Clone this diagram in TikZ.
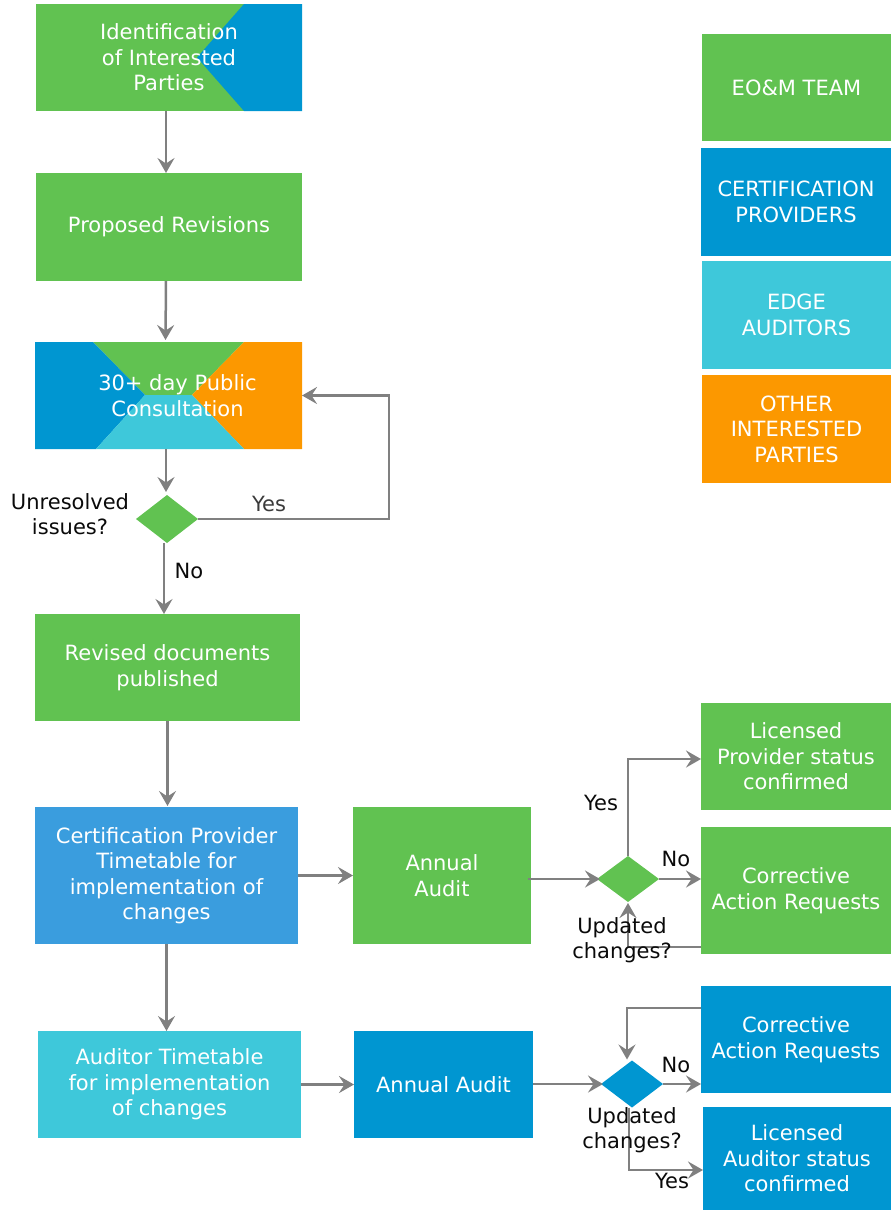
\documentclass[tikz,border=0pt]{standalone}
\usepackage{fontspec}
\setmainfont{DejaVu Sans}
\usetikzlibrary{shapes.geometric,arrows.meta}
\definecolor{cgreen}{RGB}{97,194,81}
\definecolor{cblue}{RGB}{0,150,209}
\definecolor{ccyan}{RGB}{62,200,218}
\definecolor{corange}{RGB}{252,152,0}
\definecolor{clblue}{RGB}{58,157,222}
\definecolor{cline}{RGB}{128,128,128}
\definecolor{ctext}{RGB}{10,10,10}
\tikzset{
  box/.style={rectangle, inner sep=0pt, outer sep=0pt, align=center, text=white,
    font=\fontsize{21}{25.5}\selectfont},
  dec/.style={diamond, inner sep=0pt, outer sep=0pt, minimum width=62pt, minimum height=47pt},
  lbl/.style={align=center, text=ctext, font=\fontsize{21}{25.5}\selectfont},
  arr/.style={draw=cline, line width=2.5pt, -{Stealth[length=15pt,width=17pt,inset=5.5pt]}},
}
\begin{document}
\begin{tikzpicture}[x=1pt,y=-1pt]
\useasboundingbox (0,0) rectangle (891,1211);
% ---- box 1 (green / blue)
\fill[cgreen] (36,4) rectangle (302,111);
\fill[cblue] (244,4) -- (302,4) -- (302,111) -- (244,111) -- (197,57.5) -- cycle;
\node[box, minimum width=266pt, minimum height=107pt] (n1) at (169,57.5) {Identification\\of Interested\\Parties};
% ---- box 2
\node[box, fill=cgreen, minimum width=266pt, minimum height=108pt] (n2) at (169,227) {Proposed Revisions};
% ---- box 3 (four colours)
\fill[cgreen] (93,342) -- (244,342) -- (192,395) -- (145,395) -- cycle;
\fill[cblue] (35,342) -- (93,342) -- (145,395) -- (96,449) -- (35,449) -- cycle;
\fill[corange] (244,342) -- (302,342) -- (302,449) -- (244,449) -- (192,395) -- cycle;
\fill[ccyan] (145,395) -- (192,395) -- (244,449) -- (96,449) -- cycle;
\node[box, minimum width=267pt, minimum height=107pt] (n3) at (168.5,395.5) {\hspace*{18pt}30+ day Public\\\hspace*{18pt}Consultation};
% ---- decision 1
\node[dec, fill=cgreen, minimum height=48pt] (d1) at (167,519) {};
% ---- box 4
\node[box, fill=cgreen, minimum width=265pt, minimum height=107pt] (n4) at (167.5,667.5) {Revised documents\\published};
% ---- box 5, 6
\node[box, fill=clblue, minimum width=263pt, minimum height=137pt] (n5) at (166.5,875.5) {Certification Provider\\Timetable for\\implementation of\\changes};
\node[box, fill=cgreen, minimum width=178pt, minimum height=137pt] (n6) at (442,875.5) {Annual\\Audit};
\node[dec, fill=cgreen, minimum height=46pt] (d2) at (628,879) {};
\node[box, fill=cgreen, minimum width=190pt, minimum height=107pt] (n7) at (796,756.5) {Licensed\\Provider status\\confirmed};
\node[box, fill=cgreen, minimum width=190pt, minimum height=127pt] (n8) at (796,890.5) {Corrective\\Action Requests};
% ---- box 9, 10
\node[box, fill=ccyan, minimum width=263pt, minimum height=107pt] (n9) at (169.5,1084.5) {Auditor Timetable\\for implementation\\of changes};
\node[box, fill=cblue, minimum width=179pt, minimum height=107pt] (n10) at (443.5,1084.5) {Annual Audit};
\node[dec, fill=cblue] (d3) at (632,1084) {};
\node[box, fill=cblue, minimum width=190pt, minimum height=107pt] (n11) at (796,1039.5) {Corrective\\Action Requests};
\node[box, fill=cblue, minimum width=188pt, minimum height=103pt] (n12) at (797,1158.5) {Licensed\\Auditor status\\confirmed};
% ---- legend
\node[box, fill=cgreen, minimum width=189pt, minimum height=107pt] (l1) at (796.5,87.5) {EO\&M TEAM};
\node[box, fill=cblue, minimum width=190pt, minimum height=108pt] (l2) at (796,202) {CERTIFICATION\\PROVIDERS};
\node[box, fill=ccyan, minimum width=189pt, minimum height=108pt] (l3) at (796.5,315) {EDGE\\AUDITORS};
\node[box, fill=corange, minimum width=189pt, minimum height=108pt] (l4) at (796.5,429) {OTHER\\INTERESTED\\PARTIES};
% ---- connectors
\draw[arr] ([xshift=-3pt]n1.south) -- ([xshift=-3pt]n2.north);
\draw[arr] ([xshift=-3pt]n2.south) -- ([xshift=-3pt,yshift=2pt]n3.north);
\draw[arr] ([xshift=-2.5pt]n3.south) -- ([xshift=-1pt,yshift=3pt]d1.north);
\draw[arr] (d1.east) -- ++(191,0) |- (n3.east);
\draw[arr] ([xshift=-3pt]d1.south) -- ([xshift=-3pt]d1.south |- n4.north);
\draw[arr] (n4.south) -- ([yshift=1pt]n4.south |- n5.north);
\draw[arr] (n5.east) -- (n6.west);
\draw[arr] ([xshift=-3pt]n6.east |- d2.west) -- ([xshift=3pt]d2.west);
\draw[arr] (d2.north) |- ([yshift=-2.5pt]n7.west);
\draw[arr] (d2.east) -- (d2.east -| n8.west);
\draw[arr] ([yshift=7pt]n8.south west) -| ([yshift=-1pt]d2.south);
\draw[arr] (n5.south) -- (n5.south |- n9.north);
\draw[arr] (n9.east) -- (n10.west);
\draw[arr] (n10.east |- d3.west) -- ([xshift=2pt]d3.west);
\draw[arr] (d3.east) -- (d3.east -| n11.west);
\draw[arr] ([yshift=-22pt]n11.north west) -| ([xshift=-5pt,yshift=1pt]d3.north);
\draw[arr] ([xshift=-3pt]d3.south) |- ([yshift=-11.5pt]n12.west);
% ---- labels
\node[lbl, text=ctext!80] (t1) at (269,504) {Yes};
\node[lbl] (t2) at (189,571) {No};
\node[lbl] (t3) at (70,514) {Unresolved\\issues?};
\node[lbl] (t4) at (601,803) {Yes};
\node[lbl] (t5) at (676,859) {No};
\node[lbl] (t6) at (622,940) {Updated\\changes?};
\node[lbl] (t7) at (676,1065) {No};
\node[lbl] (t8) at (632,1130) {Updated\\changes?};
\node[lbl] (t9) at (672,1181) {Yes};
\end{tikzpicture}
\end{document}
